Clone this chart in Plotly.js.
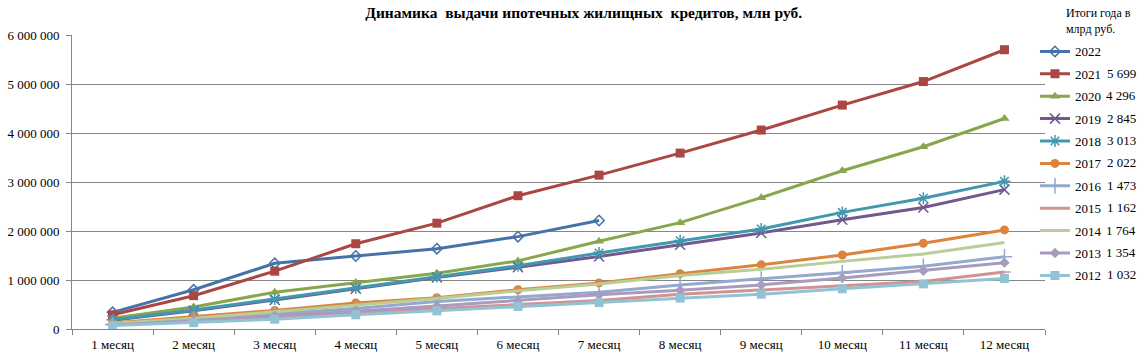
<!DOCTYPE html>
<html>
<head>
<meta charset="utf-8">
<script src="https://cdn.plot.ly/plotly-3.0.1.min.js"></script>
<style>html,body{margin:0;padding:0;background:#fff;}#chart{width:1140px;height:362px;}</style>
</head>
<body>
<div id="chart"></div>
<script>
const months = ["1 месяц","2 месяц","3 месяц","4 месяц","5 месяц","6 месяц","7 месяц","8 месяц","9 месяц","10 месяц","11 месяц","12 месяц"];
const years = ["2022","2021","2020","2019","2018","2017","2016","2015","2014","2013","2012"];
const totals = ["","5 699","4 296","2 845","3 013","2 022","1 473","1 162","1 764","1 354","1 032"];

const y2022 = [340000, 800000, 1340000, 1490000, 1640000, 1885000, 2215000];
const y2021 = [290000, 680000, 1180000, 1740000, 2160000, 2720000, 3140000, 3590000, 4060000, 4570000, 5050000, 5699000];
const y2020 = [220000, 450000, 750000, 950000, 1140000, 1390000, 1790000, 2170000, 2680000, 3230000, 3720000, 4296000];
const y2019 = [180000, 370000, 590000, 820000, 1050000, 1260000, 1480000, 1720000, 1960000, 2230000, 2480000, 2845000];
const y2018 = [190000, 390000, 610000, 840000, 1070000, 1290000, 1550000, 1800000, 2040000, 2380000, 2670000, 3013000];
const y2017 = [120000, 250000, 380000, 530000, 640000, 800000, 940000, 1130000, 1310000, 1510000, 1750000, 2022000];
const y2016 = [90000, 200000, 300000, 420000, 560000, 660000, 750000, 900000, 1020000, 1150000, 1280000, 1473000];
const y2015 = [90000, 160000, 250000, 330000, 420000, 500000, 580000, 710000, 800000, 880000, 970000, 1162000];
const y2014 = [110000, 220000, 350000, 480000, 620000, 780000, 920000, 1090000, 1220000, 1380000, 1530000, 1764000];
const y2013 = [80000, 170000, 270000, 360000, 470000, 580000, 700000, 790000, 900000, 1040000, 1190000, 1354000];
const y2012 = [70000, 130000, 200000, 290000, 370000, 460000, 540000, 630000, 710000, 820000, 920000, 1032000];

const series = [y2022, y2021, y2020, y2019, y2018, y2017, y2016, y2015, y2014, y2013, y2012];
const colors = ["#4572A7","#AA4643","#89A54E","#71588F","#4198AF","#DB843D","#93A9CF","#D19392","#B9CD96","#A99BBD","#91C3D5"];
const symbols = ["diamond-open","square","triangle-up","x-thin-open","asterisk-open","circle","cross-thin-open","line-ew-open",null,"diamond","square"];
const msizes = [8, 9, 9, 10, 10, 9, 11, 9, 0, 8, 9];

const FONT = "Liberation Serif, Times New Roman, serif";

const traces = series.map((vals, i) => {
  const t = {
    type: "scatter",
    x: months.slice(0, vals.length),
    y: vals,
    name: years[i],
    legendgroup: "g" + i,
    mode: symbols[i] ? "lines+markers" : "lines",
    line: {color: colors[i], width: 3},
    hoverinfo: "x+y+name"
  };
  if (symbols[i]) {
    t.marker = {symbol: symbols[i], size: msizes[i], color: colors[i], line: {color: colors[i], width: (symbols[i].indexOf("open") >= 0) ? 1.5 : 0}};
  }
  return t;
});

// plot area: top 35px, height ~294px; legend rows start at 51px, 22.4px apart
const rowY = k => (329.3 - (51 + 22.4 * k)) / 294.3;
const totalAnnotations = totals.map((tv, k) => ({
  text: tv, xref: "paper", yref: "paper",
  x: 1.0956, y: rowY(k), xanchor: "right", yanchor: "middle",
  showarrow: false, font: {family: FONT, size: 13, color: "#000"}
})).filter(a => a.text);

const layout = {
  width: 1140, height: 362,
  margin: {l: 72, r: 95, t: 35, b: 33, pad: 0, autoexpand: false},
  paper_bgcolor: "#ffffff", plot_bgcolor: "#ffffff",
  separators: ", ",
  font: {family: FONT, size: 13, color: "#000"},
  title: {
    text: "<b>Динамика  выдачи ипотечных жилищных  кредитов, млн руб.</b>",
    font: {family: FONT, size: 15.5, color: "#000"},
    x: 0.512, xanchor: "center", y: 0.966, yanchor: "middle"
  },
  xaxis: {
    type: "category",
    range: [-0.5, 11.5],
    tickson: "boundaries",
    ticks: "outside", ticklen: 5, tickcolor: "#868686",
    ticklabelstandoff: 3,
    showline: true, linecolor: "#868686", linewidth: 1,
    showgrid: false, zeroline: false, automargin: false,
    tickfont: {family: FONT, size: 13, color: "#000"}
  },
  yaxis: {
    range: [0, 6000000],
    dtick: 1000000,
    tickformat: ",d",
    ticks: "outside", ticklen: 5, tickcolor: "#868686",
    ticklabelstandoff: 4,
    showline: true, linecolor: "#868686", linewidth: 1,
    showgrid: true, gridcolor: "#868686", gridwidth: 1,
    zeroline: false, automargin: false,
    tickfont: {family: FONT, size: 13, color: "#000"}
  },
  showlegend: true,
  legend: {
    x: 0.9897, xanchor: "left", y: 0.995, yanchor: "top",
    bgcolor: "rgba(0,0,0,0)", borderwidth: 0,
    traceorder: "grouped", tracegroupgap: 2.5,
    font: {family: FONT, size: 13, color: "#000"}
  },
  annotations: [{
    text: "Итоги года в<br>млрд руб.",
    xref: "paper", yref: "paper",
    x: 1.02, y: 1.105, xanchor: "left", yanchor: "top", align: "left",
    showarrow: false,
    font: {family: FONT, size: 12, color: "#000"}
  }].concat(totalAnnotations)
};

Plotly.newPlot("chart", traces, layout, {displayModeBar: false, staticPlot: true});
</script>
</body>
</html>
